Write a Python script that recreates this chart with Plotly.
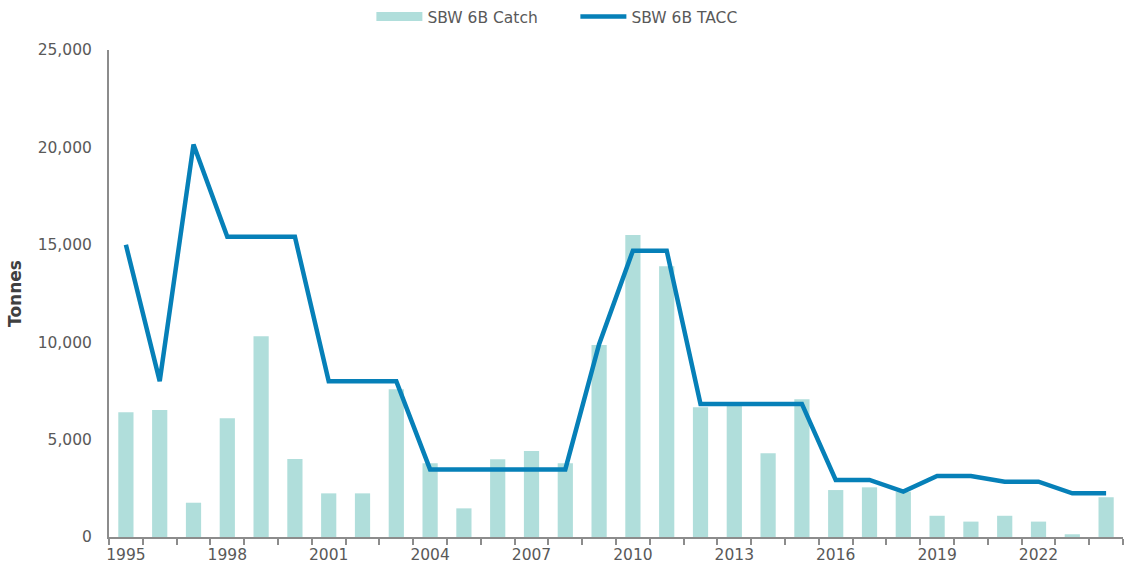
import plotly.graph_objects as go

years = list(range(1995, 2025))
catch = [6400, 6520, 1760, 6090, 10300, 4000, 2240, 2240, 7580, 3780,
         1470, 3990, 4410, 3780, 9850, 15500, 13900, 6660, 6850, 4300,
         7070, 2410, 2550, 2330, 1090, 790, 1090, 790, 140, 2040]
tacc = [15000, 8000, 20150, 15410, 15410, 15410, 8000, 8000, 8000, 3470,
        3470, 3470, 3470, 3470, 9900, 14700, 14700, 6830, 6830, 6830,
        6830, 2930, 2930, 2330, 3130, 3130, 2840, 2840, 2240, 2240]
tick_years = list(range(1995, 2023, 3))
y_ticks = [0, 5000, 10000, 15000, 20000, 25000]

font_family = "DejaVu Sans, Verdana, sans-serif"
grey = "#595959"
axis_col = "#8c8c8c"
bar_col = "#B0DEDB"
line_col = "#0680B8"

fig = go.Figure()
fig.add_trace(go.Bar(x=years, y=catch, name="SBW 6B Catch",
                     marker=dict(color=bar_col, line=dict(width=0)),
                     width=0.45, showlegend=False))
# legend entry for the bars, drawn as a wide band like the original
fig.add_trace(go.Scatter(x=[None], y=[None], name="SBW 6B Catch",
                         mode="lines", line=dict(color=bar_col, width=9)))
fig.add_trace(go.Scatter(x=years, y=tacc, name="SBW 6B TACC", mode="lines",
                         line=dict(color=line_col, width=4.5)))

fig.update_layout(
    width=1126, height=567,
    margin=dict(l=109, r=3, t=50, b=30),
    paper_bgcolor="white", plot_bgcolor="white",
    font=dict(family=font_family, size=15.5, color=grey),
    showlegend=True,
    legend=dict(orientation="h", xref="container", yref="container",
                x=0.511, xanchor="center", y=1.0, yanchor="top",
                font=dict(size=15.5, color=grey), itemwidth=46,
                entrywidth=143, entrywidthmode="pixels",
                traceorder="normal"),
)
fig.update_xaxes(
    range=[1994.5, 2024.5], tickmode="array", tickvals=tick_years,
    ticktext=[str(y) for y in tick_years], ticks="outside", ticklen=2,
    tickcolor="rgba(0,0,0,0)",
    showline=True, linecolor=axis_col, linewidth=2, showgrid=False,
    zeroline=False, tickfont=dict(size=15.5, color=grey),
    minor=dict(tickmode="linear", tick0=1994.5, dtick=1, ticks="outside",
               ticklen=6, tickcolor=axis_col, tickwidth=1.5, showgrid=False),
)
fig.update_yaxes(
    range=[0, 25000], tickvals=y_ticks,
    ticktext=[f"{v:,}" for v in y_ticks], showline=True, linecolor=axis_col,
    linewidth=2, showgrid=False, zeroline=False, ticks="outside", ticklen=12,
    tickcolor="rgba(0,0,0,0)",
    tickfont=dict(size=15.5, color=grey),
    title=dict(text="<b>Tonnes</b>", font=dict(size=17, color="#404040"),
               standoff=12),
)

fig.write_html("out.html", config={"displayModeBar": False},
               post_script="document.body.style.margin='0px';")
